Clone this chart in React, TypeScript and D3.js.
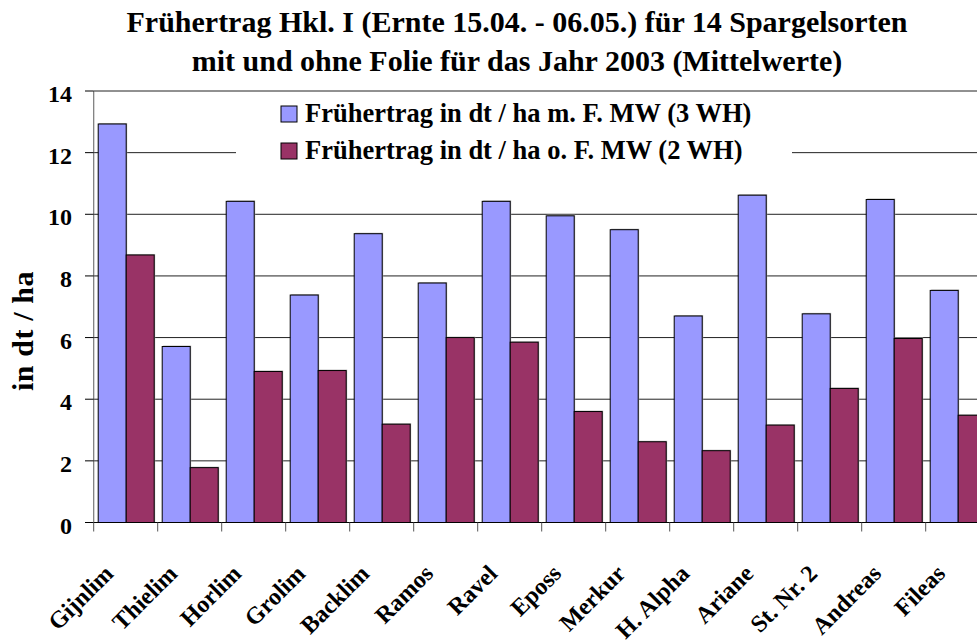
import React from "react";
import * as d3 from "d3";

const categories = ["Gijnlim", "Thielim", "Horlim", "Grolim", "Backlim", "Ramos", "Ravel", "Eposs", "Merkur", "H. Alpha", "Ariane", "St. Nr. 2", "Andreas", "Fileas"];
const seriesNames = ["Frühertrag in dt / ha m. F. MW (3 WH)", "Frühertrag in dt / ha o. F. MW (2 WH)"];
const mitFolie = [12.93, 5.71, 10.42, 7.38, 9.37, 7.77, 10.42, 9.95, 9.5, 6.7, 10.62, 6.77, 10.48, 7.53];
const ohneFolie = [8.68, 1.78, 4.9, 4.93, 3.19, 6.0, 5.85, 3.6, 2.62, 2.33, 3.16, 4.35, 5.97, 3.48];
const yTicks = [0, 2, 4, 6, 8, 10, 12, 14];
const titleLines = ["Frühertrag Hkl. I (Ernte 15.04. - 06.05.) für 14 Spargelsorten", "mit und ohne Folie für das Jahr 2003 (Mittelwerte)"];
const yLabel = "in dt / ha";
const colors = ["#9999FF", "#993366"];

const W = 977, H = 641;
const left = 93.7, right = 989.7, top = 91, bottom = 522.5;
const font = "'Liberation Serif', 'Times New Roman', serif";

export default function App() {
  const x0 = d3.scaleBand<string>().domain(categories).range([left, right]).paddingInner(0).paddingOuter(0);
  const x1 = d3.scaleBand<string>().domain(seriesNames).range([4.5, 60.5]).padding(0);
  const y = d3.scaleLinear().domain([0, 14]).range([bottom, top]);
  const data = [mitFolie, ohneFolie];

  return (
    <div style={{ position: "absolute", left: 0, top: 0 }}>
      <svg width={W} height={H} style={{ display: "block", background: "#fff", fontFamily: font }}>
        <rect x={0} y={0} width={W} height={H} fill="#fff" />
        {titleLines.map((t, i) => (
          <text key={i} x={517} y={32 + i * 39} textAnchor="middle" fontSize={30} fontWeight="bold" fill="#000">{t}</text>
        ))}
        {yTicks.filter(t => t > 0).map(t => (
          <line key={t} x1={left} x2={right} y1={y(t)} y2={y(t)} stroke="#222" strokeWidth={1} />
        ))}
        {categories.map((c, i) => (
          <g key={c}>
            {seriesNames.map((s, j) => {
              const bx = (x0(c) as number) + (x1(s) as number);
              const by = y(data[j][i]);
              return (
                <g key={s}>
                  <rect x={bx + 1} y={by - 1} width={x1.bandwidth()} height={bottom - by + 1} fill="#bbb" />
                  <rect x={bx} y={by} width={x1.bandwidth()} height={bottom - by} fill={colors[j]} stroke="#000" strokeWidth={1} />
                </g>
              );
            })}
          </g>
        ))}
        <line x1={left} x2={left} y1={top} y2={bottom} stroke="#777" strokeWidth={1.2} />
        <line x1={left} x2={right} y1={bottom} y2={bottom} stroke="#000" strokeWidth={1.2} />
        {yTicks.map(t => (
          <g key={t}>
            <line x1={85} x2={left} y1={y(t)} y2={y(t)} stroke="#000" />
            <text x={72} y={y(t) + 11} textAnchor="end" fontSize={24} fontWeight="bold">{t}</text>
          </g>
        ))}
        {categories.map(c => (
          <line key={c} x1={(x0(c) as number)} x2={(x0(c) as number)} y1={bottom} y2={bottom + 9} stroke="#555" />
        ))}
        {categories.map(c => {
          const cx = (x0(c) as number) + x0.bandwidth() / 2;
          return (
            <text key={c} transform={`translate(${cx - 11},${575}) rotate(-45)`} textAnchor="end" fontSize={24} fontWeight="bold">{c}</text>
          );
        })}
        <text transform={`translate(33,331) rotate(-90)`} textAnchor="middle" fontSize={30} fontWeight="bold" letterSpacing={0.6}>{yLabel}</text>
        <rect x={236} y={97} width={556} height={74} fill="#fff" />
        {seriesNames.map((s, j) => (
          <g key={s}>
            <rect x={281} y={106 + j * 37} width={16} height={16} fill={colors[j]} stroke="#000" strokeWidth={1} />
            <text x={305} y={122 + j * 37} fontSize={26.5} fontWeight="bold">{s}</text>
          </g>
        ))}
      </svg>
    </div>
  );
}
